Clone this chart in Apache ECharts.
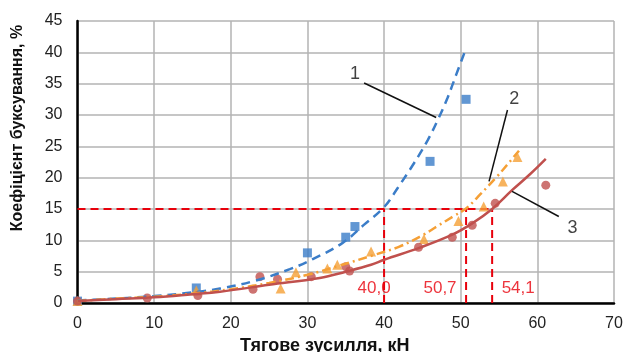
<!DOCTYPE html>
<html>
<head>
<meta charset="utf-8">
<script src="https://cdn.jsdelivr.net/npm/echarts@6/dist/echarts.min.js"></script>
<style>
  html, body { margin: 0; padding: 0; background: #fff; }
  #chart { width: 638px; height: 352px; }
</style>
</head>
<body>
<div id="chart"></div>
<script>
const pts1 = [[0, 0.3], [15.5, 2.4], [30, 8.0], [35, 10.5], [36.2, 12.2], [46, 22.6], [50.7, 32.5]];
const pts2 = [[0, 0.3], [15.5, 2.0], [26.5, 2.3], [28.5, 4.9], [32.6, 5.5], [33.9, 6.1], [38.3, 8.2],
  [45.2, 10.2], [49.7, 13.1], [53.0, 15.4], [55.5, 19.4], [57.4, 23.3]];
const pts3 = [[0, 0.3], [9.1, 0.8], [15.7, 1.2], [22.9, 2.2], [23.8, 4.2], [26.1, 3.8], [30.5, 4.2],
  [35, 5.8], [35.5, 5.1], [44.5, 8.9], [48.9, 10.5], [51.5, 12.4], [54.5, 15.9], [61.1, 18.8]];

// trend curves
const fit1 = [[0, 0.4], [5, 0.7], [10, 1.1], [15, 1.7], [18.6, 2.3], [23.3, 3.6], [27.7, 5.4], [30.7, 7.0],
  [34.6, 9.6], [37.4, 12.5], [40, 15.3], [41.8, 18.4], [43.9, 22.3], [45.7, 26], [47, 29.2],
  [48.3, 32.8], [49.4, 36.4], [50.6, 40.3]];
const fit2 = [[0, 0.3], [5, 0.7], [10, 1.0], [15, 1.5], [20, 2.2], [25, 3.2], [30, 4.5], [34, 5.9],
  [38.5, 7.6], [42, 9.0], [45, 10.8], [47, 12.3], [49, 13.8], [50.7, 15.1], [52.6, 17.4],
  [54.6, 20.0], [56.3, 22.4], [57.6, 24.3]];
const fit3 = [[0, 0.3], [5, 0.6], [10, 0.9], [15, 1.4], [18.6, 1.8], [25, 2.9], [31.6, 4.0], [35, 5.0],
  [38.3, 6.1], [40, 6.9], [44.6, 8.8], [48.9, 10.9], [51.5, 12.7], [54.1, 15], [56.7, 18],
  [59, 20.5], [61.1, 23]];

// red reference level and crossings
const level = 15;
const crossX = [40.0, 50.7, 54.1];
const crossText = ['40,0', '50,7', '54,1'];
const crossTextPos = [[38.7, 2.3], [47.3, 2.3], [57.5, 2.3]];

// curve numbers with leader lines
const tagText = ['1', '2', '3'];
const tagPos = [[36.2, 36.5], [57.0, 32.5], [64.6, 12.0]];
const leaders = [
  [[37.4, 35.1], [46.8, 29.6]],
  [[56.1, 30.8], [53.7, 19.4]],
  [[56.7, 17.8], [62.8, 13.8]]
];

const xTicks = [0, 70, 10];
const yTicks = [0, 45, 5];

const blue = '#3b7dc8';
const orange = '#f5a036';
const red = '#c0504d';
const refRed = '#e8000b';
const font = 'Liberation Sans, Arial, sans-serif';

const chart = echarts.init(document.getElementById('chart'));

const series = [];

// reference lines first so data sit on top
series.push({
  type: 'line', data: [[0, level], [crossX[2], level]], symbol: 'none', silent: true,
  lineStyle: { color: refRed, width: 2, type: [8, 5] }, z: 2
});
crossX.forEach((x) => {
  series.push({
    type: 'line', data: [[x, 0], [x, level]], symbol: 'none', silent: true,
    lineStyle: { color: refRed, width: 2, type: [8, 5] }, z: 2
  });
});

series.push(
  { type: 'scatter', data: pts1, symbol: 'rect', symbolSize: 9, itemStyle: { color: blue }, z: 3 },
  { type: 'scatter', data: pts2, symbol: 'triangle', symbolSize: 10, itemStyle: { color: orange }, z: 3 },
  { type: 'scatter', data: pts3, symbol: 'circle', symbolSize: 9, itemStyle: { color: red }, z: 3 },
  {
    type: 'line', data: fit1, smooth: 0.4, symbol: 'none',
    lineStyle: { color: blue, width: 2.5, type: [9, 6] }, z: 4
  },
  {
    type: 'line', data: fit2, smooth: 0.4, symbol: 'none',
    lineStyle: { color: orange, width: 2.5, type: [9, 4, 2, 4] }, z: 4
  },
  {
    type: 'line', data: fit3, smooth: 0.4, symbol: 'none',
    lineStyle: { color: red, width: 2.5 }, z: 4
  }
);

leaders.forEach((seg) => {
  series.push({
    type: 'line', data: seg, symbol: 'none', silent: true,
    lineStyle: { color: '#111', width: 1.5 }, z: 5
  });
});

series.push({
  type: 'scatter', symbolSize: 0, silent: true, z: 6,
  data: tagPos.map((p, i) => ({ value: p, name: tagText[i] })),
  label: {
    show: true, position: 'inside', formatter: '{b}',
    color: '#111', fontSize: 18, fontFamily: font
  }
});
series.push({
  type: 'scatter', symbolSize: 0, silent: true, z: 6,
  data: crossTextPos.map((p, i) => ({ value: p, name: crossText[i] })),
  label: {
    show: true, position: 'inside', formatter: '{b}',
    color: refRed, fontSize: 17, fontFamily: font
  }
});

const option = {
  animation: false,
  backgroundColor: '#fff',
  grid: { left: 77.5, right: 24, top: 21, bottom: 49, containLabel: false, outerBoundsMode: 'none' },
  xAxis: {
    type: 'value', min: xTicks[0], max: xTicks[1], interval: xTicks[2],
    name: 'Тягове зусилля, кН', nameLocation: 'middle', nameGap: 34,
    nameTextStyle: { fontFamily: font, fontSize: 18, fontWeight: 'bold', color: '#111', padding: [0, 42, 0, 0] },
    axisLine: { show: true, onZero: false, lineStyle: { color: '#000', width: 2.5 } },
    axisTick: { show: false },
    axisLabel: { fontFamily: font, fontSize: 16, color: '#222', margin: 13 },
    splitLine: { show: true, lineStyle: { color: '#b3b3b3', width: 1.5 } }
  },
  yAxis: {
    type: 'value', min: yTicks[0], max: yTicks[1], interval: yTicks[2],
    name: 'Коефіцієнт буксування, %', nameLocation: 'middle', nameGap: 52,
    nameTextStyle: { fontFamily: font, fontSize: 16, fontWeight: 'bold', color: '#111', padding: [0, 0, 0, 68] },
    axisLine: { show: true, onZero: false, lineStyle: { color: '#000', width: 2.5 } },
    axisTick: { show: false },
    axisLabel: { fontFamily: font, fontSize: 16, color: '#222', margin: 15 },
    splitLine: { show: true, lineStyle: { color: '#b3b3b3', width: 1.5 } }
  },
  series: series
};

chart.setOption(option);
</script>
</body>
</html>
